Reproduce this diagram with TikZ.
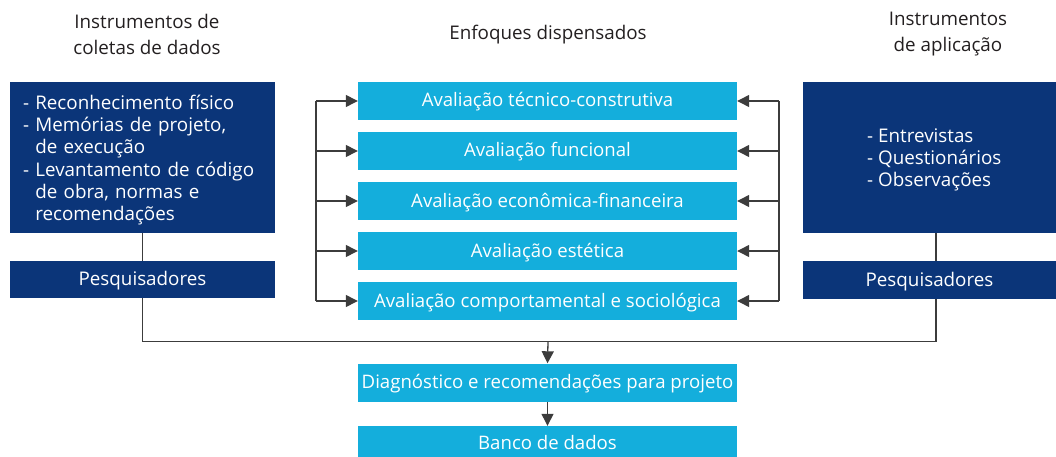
\documentclass[tikz,border=0pt]{standalone}
\usepackage{fontspec}
\setmainfont{Open Sans}
\usetikzlibrary{arrows.meta}
\definecolor{navy}{HTML}{0B3579}
\definecolor{sky}{HTML}{14AEDC}
\definecolor{linegray}{HTML}{3C3C3C}
\definecolor{titlegray}{HTML}{231F20}
\tikzset{
  darkbox/.style={rectangle, fill=navy, text=white, inner sep=0pt, font=\fontsize{18.8}{22.3}\selectfont},
  onel/.style={text height=14pt, text depth=2pt},
  lightbox/.style={rectangle, fill=sky, text=white, inner sep=0pt, minimum width=379pt, minimum height=38pt, font=\fontsize{18.6}{22}\selectfont, onel},
  title/.style={text=titlegray, align=center, font=\fontsize{18.8}{26}\selectfont, inner sep=0pt},
  conn/.style={draw=linegray, line width=1.3pt},
  arr/.style={conn, -{Triangle[length=12pt,width=12pt]}}
}
\begin{document}
\begin{tikzpicture}[x=1pt,y=-1pt]
\useasboundingbox (0,0) rectangle (1056,457);
% titles
\node[title] (t1) at (147,34) {Instrumentos de\\coletas de dados};
\node[title] (t2) at (548,35) {Enfoques dispensados};
\node[title] (t3) at (948,34) {Instrumentos\\de aplicação};
% left column
\node[rectangle, fill=navy, minimum width=265pt, minimum height=151pt] (lbox) at (142.5,157.5) {};
\node[darkbox, text width=239pt, align=left] (ltext) at (142.5,160)
 {- Reconhecimento físico\\- Memórias de projeto,\\\phantom{- }de execução\\- Levantamento de código\\\phantom{- }de obra, normas e\\\phantom{- }recomendações};
\node[darkbox, onel, minimum width=265pt, minimum height=37pt] (lpes) at (142.5,279.5) {Pesquisadores};
% right column
\node[rectangle, fill=navy, minimum width=253pt, minimum height=151pt] (rbox) at (929.5,157.5) {};
\node[darkbox, align=left, anchor=west] (rtext) at (867,160) {- Entrevistas\\- Questionários\\- Observações};
\node[darkbox, onel, minimum width=253pt, minimum height=38pt] (rpes) at (929.5,280) {Pesquisadores};
% center column
\node[lightbox] (a1) at (547.5,101) {Avaliação técnico-construtiva};
\node[lightbox] (a2) at (547.5,151) {Avaliação funcional};
\node[lightbox] (a3) at (547.5,201) {Avaliação econômica-financeira};
\node[lightbox] (a4) at (547.5,251) {Avaliação estética};
\node[lightbox] (a5) at (547.5,301) {Avaliação comportamental e sociológica};
\node[lightbox] (diag) at (547.5,382.5) {Diagnóstico e recomendações para projeto};
\node[lightbox, minimum height=40pt] (banco) at (547.5,446) {};
\node[lightbox, fill=none] (bancot) at (547.5,443.5) {Banco de dados};
% bus coordinates
\coordinate (lb1) at (316,101);
\coordinate (lb5) at (316,301);
\coordinate (rb1) at (779,101);
\coordinate (rb5) at (779,301);
\coordinate (junc) at (548,341.5);
\draw[conn] (lb1) -- (lb5);
\draw[conn] (rb1) -- (rb5);
\foreach \i in {1,...,5}{
  \draw[arr] (316,0 |- a\i.west) -- (a\i.west);
  \draw[arr] (779,0 |- a\i.east) -- (a\i.east);
}
% vertical links
\draw[conn] (lbox.south) -- (lpes.north);
\draw[conn] (936,0 |- rbox.south) -- (936,0 |- rpes.north);
\draw[conn] (lpes.south) |- (junc) -| (936,0 |- rpes.south);
\draw[arr] (junc) -- (diag.north);
\draw[arr] (diag.south) -- (banco.north);
\end{tikzpicture}
\end{document}
